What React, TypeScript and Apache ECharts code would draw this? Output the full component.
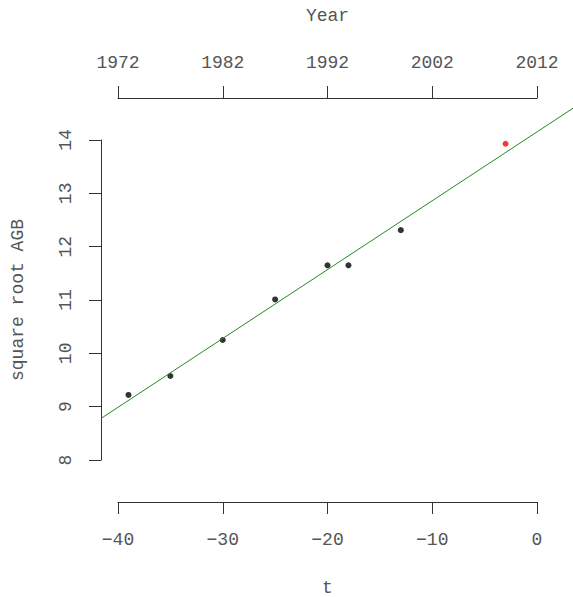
import React, { useEffect, useRef } from "react";
import * as echarts from "echarts";

// Observations: time offset t (years before 2012) and square-root AGB
const tValues = [-39, -35, -30, -25, -20, -18, -13];
const sqrtAgb = [9.22, 9.575, 10.25, 11.01, 11.65, 11.65, 12.31];
// Latest observation, highlighted
const latestT = [-3];
const latestSqrtAgb = [13.93];

// Fitted trend line: sqrtAGB = intercept + slope * t
const fitIntercept = 14.152;
const fitSlope = 0.1291;

const baseYear = 2012;
const tTicks = [-40, -30, -20, -10, 0];
const agbTicks = [8, 9, 10, 11, 12, 13, 14];

const FONT = "Liberation Mono";
const TEXT_COLOR = "#555";
const AXIS_COLOR = "#333";

// Axis frame (pixels)
const W = 573;
const H = 597;
const AX_LEFT = 118;
const AX_WIDTH = 419;
const AX_TOP = 140;
const AX_HEIGHT = 320;
// Region the trend line may occupy (extends past the axes, like abline)
const LINE_LEFT = 101;
const LINE_TOP = 100;

export default function App() {
  const ref = useRef<HTMLDivElement>(null);

  useEffect(() => {
    if (!ref.current) return;
    const chart = echarts.init(ref.current, undefined, { renderer: "svg" });

    const tMin = tTicks[0];
    const tMax = tTicks[tTicks.length - 1];
    const yMin = agbTicks[0];
    const yMax = agbTicks[agbTicks.length - 1];
    const pxPerT = AX_WIDTH / (tMax - tMin);
    const pxPerY = AX_HEIGHT / (yMax - yMin);
    // Hidden scales for the line's grid, sharing the same pixel mapping
    const lineTMin = tMin - (AX_LEFT - LINE_LEFT) / pxPerT;
    const lineTMax = tMax + (W - (AX_LEFT + AX_WIDTH)) / pxPerT;
    const lineYMax = yMax + (AX_TOP - LINE_TOP) / pxPerY;

    const axisLine = { show: true, onZero: false, lineStyle: { color: AXIS_COLOR, width: 1 } };
    const axisTick = { show: true, length: 12, lineStyle: { color: AXIS_COLOR, width: 1 } };
    const labelStyle = { fontFamily: FONT, fontSize: 18, color: TEXT_COLOR };
    const hiddenAxis = {
      show: false,
      axisLine: { show: false, onZero: false },
      axisTick: { show: false },
      axisLabel: { show: false },
      splitLine: { show: false },
    };

    chart.setOption({
      animation: false,
      backgroundColor: "#fff",
      grid: [
        {
          left: AX_LEFT,
          top: AX_TOP,
          width: AX_WIDTH,
          height: AX_HEIGHT,
          containLabel: false,
          outerBoundsMode: "none",
        },
        {
          left: LINE_LEFT,
          top: LINE_TOP,
          width: W - LINE_LEFT,
          height: AX_TOP + AX_HEIGHT - LINE_TOP,
          containLabel: false,
          outerBoundsMode: "none",
        },
      ],
      xAxis: [
        {
          type: "value",
          gridIndex: 0,
          position: "bottom",
          min: tMin,
          max: tMax,
          interval: 10,
          offset: 42,
          name: "t",
          nameLocation: "middle",
          nameGap: 79,
          nameTextStyle: { ...labelStyle, lineHeight: 14 },
          axisLine,
          axisTick,
          axisLabel: { ...labelStyle, margin: 29, formatter: (v: number) => String(v).replace("-", "\u2212") },
          splitLine: { show: false },
        },
        {
          type: "value",
          gridIndex: 0,
          position: "top",
          min: tMin,
          max: tMax,
          interval: 10,
          offset: 42,
          name: "Year",
          nameLocation: "middle",
          nameGap: 73,
          nameTextStyle: { ...labelStyle },
          axisLine,
          axisTick,
          axisLabel: { ...labelStyle, margin: 26, formatter: (v: number) => String(v + baseYear) },
          splitLine: { show: false },
        },
        { type: "value", gridIndex: 1, min: lineTMin, max: lineTMax, ...hiddenAxis },
      ],
      yAxis: [
        {
          type: "value",
          gridIndex: 0,
          position: "left",
          min: yMin,
          max: yMax,
          interval: 1,
          offset: 17,
          name: "square root AGB",
          nameLocation: "middle",
          nameGap: 74,
          nameTextStyle: { ...labelStyle },
          axisLine,
          axisTick,
          axisLabel: { ...labelStyle, margin: 26, rotate: 90 },
          splitLine: { show: false },
        },
        { type: "value", gridIndex: 1, min: yMin, max: lineYMax, ...hiddenAxis },
      ],
      series: [
        {
          type: "line",
          xAxisIndex: 2,
          yAxisIndex: 1,
          data: [lineTMin, lineTMax].map((t) => [t, fitIntercept + fitSlope * t]),
          showSymbol: false,
          symbol: "none",
          lineStyle: { color: "#228B22", width: 1 },
          silent: true,
        },
        {
          type: "scatter",
          xAxisIndex: 0,
          yAxisIndex: 0,
          data: tValues.map((t, i) => [t, sqrtAgb[i]]),
          symbol: "circle",
          symbolSize: 6,
          itemStyle: { color: "#000" },
        },
        {
          type: "scatter",
          xAxisIndex: 0,
          yAxisIndex: 0,
          data: latestT.map((t, i) => [t, latestSqrtAgb[i]]),
          symbol: "circle",
          symbolSize: 6,
          itemStyle: { color: "#ff0000" },
        },
      ],
    });

    return () => chart.dispose();
  }, []);

  return (
    <div
      ref={ref}
      style={{ position: "absolute", left: 0, top: 0, width: W, height: H, background: "#fff" }}
    />
  );
}
